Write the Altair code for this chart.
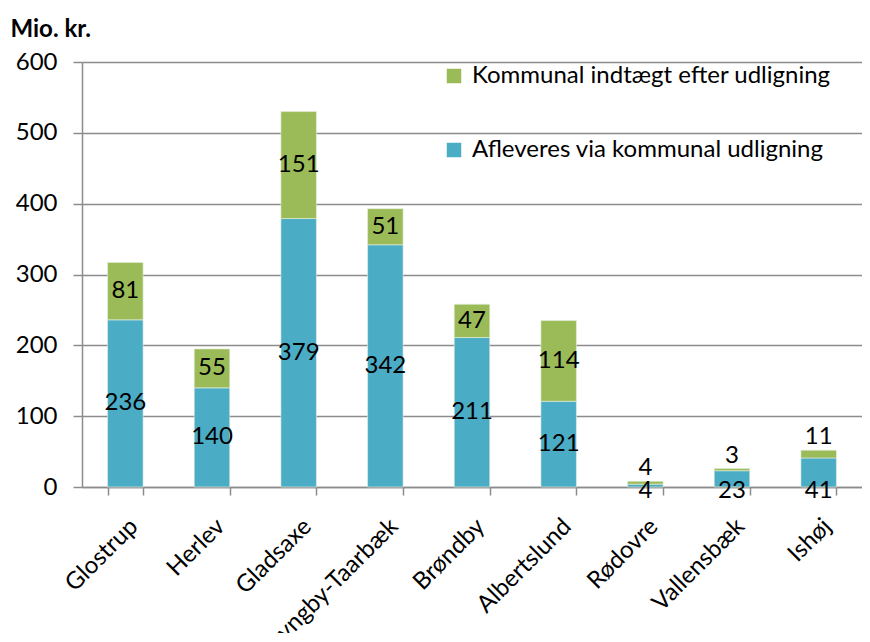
import altair as alt
import pandas as pd

kommuner = ["Glostrup", "Herlev", "Gladsaxe", "Lyngby-Taarbæk", "Brøndby",
            "Albertslund", "Rødovre", "Vallensbæk", "Ishøj"]
afleveres = [236, 140, 379, 342, 211, 121, 4, 23, 41]
indtaegt = [81, 55, 151, 51, 47, 114, 4, 3, 11]
serie_navne = ["Kommunal indtægt efter udligning", "Afleveres via kommunal udligning"]
serie_farver = ["#9BBB59", "#4BACC6"]
y_ticks = [0, 100, 200, 300, 400, 500, 600]

rows = []
for k, a, i in zip(kommuner, afleveres, indtaegt):
    rows.append(dict(Kommune=k, Serie=serie_navne[1], Vaerdi=a, orden=0, total=a + i))
    rows.append(dict(Kommune=k, Serie=serie_navne[0], Vaerdi=i, orden=1, total=a + i))
df = pd.DataFrame(rows)

FONT = "Lato"
GRAY = "#8C8C8C"
FS = 24

base = alt.Chart(df).transform_stack(
    stack="Vaerdi", groupby=["Kommune"], as_=["y0", "y1"],
    sort=[alt.SortField("orden", order="ascending")]
).transform_calculate(mid="(datum.y0 + datum.y1) / 2")

x_enc = alt.X("Kommune:N", sort=kommuner, title=None,
              scale=alt.Scale(paddingInner=0.59, paddingOuter=0.295),
              axis=alt.Axis(labelAngle=-45, labelFontSize=FS, labelColor="black",
                            tickBand="extent", tickSize=8, tickColor=GRAY, tickWidth=1.5,
                            domainColor=GRAY, domainWidth=1.5, labelPadding=19, grid=False))
y_scale = alt.Scale(domain=[0, 600], nice=False)

bars = base.mark_bar(stroke="#E8F0E0", strokeWidth=0.6).encode(
    x=x_enc,
    y=alt.Y("y0:Q", scale=y_scale,
            axis=alt.Axis(values=y_ticks, grid=True, gridColor=GRAY, gridWidth=1.5,
                          domainColor=GRAY, domainWidth=1.5, tickColor=GRAY, tickWidth=1.5,
                          tickSize=9, labelPadding=16, labelFontSize=FS, labelColor="black",
                          title="Mio. kr.", titleAngle=0, titleX=-72, titleY=-26,
                          titleFontSize=FS, titleFontWeight="bold", titleAlign="left",
                          titleBaseline="alphabetic", titleColor="black")),
    y2="y1:Q",
    color=alt.Color("Serie:N", scale=alt.Scale(domain=serie_navne, range=serie_farver),
                    legend=alt.Legend(title=None, orient="none", legendX=360, legendY=2,
                                      symbolType="square", symbolSize=210,
                                      symbolStrokeWidth=0, labelFontSize=FS,
                                      labelColor="black", rowPadding=50,
                                      labelLimit=500, symbolOffset=0, labelOffset=6)),
    order=alt.Order("orden:Q"),
)

txt_normal = base.transform_filter("datum.total >= 60").mark_text(
    fontSize=FS, color="black", baseline="middle").encode(
    x=alt.X("Kommune:N", sort=kommuner), y=alt.Y("mid:Q", scale=y_scale),
    text=alt.Text("Vaerdi:Q"))

txt_small_top = base.transform_filter("datum.total < 60 && datum.orden == 1").mark_text(
    fontSize=FS, color="black", baseline="bottom", dy=-1).encode(
    x=alt.X("Kommune:N", sort=kommuner), y=alt.Y("y1:Q", scale=y_scale),
    text=alt.Text("Vaerdi:Q"))

txt_small_bot = base.transform_filter("datum.total < 60 && datum.orden == 0").mark_text(
    fontSize=FS, color="black", baseline="middle", dy=4).encode(
    x=alt.X("Kommune:N", sort=kommuner), y=alt.Y("y0:Q", scale=y_scale),
    text=alt.Text("Vaerdi:Q"))

chart = alt.layer(bars, txt_normal, txt_small_top, txt_small_bot).properties(
    width=780, height=425,
    padding={"left": 74, "top": 54, "right": 0, "bottom": 146},
    autosize=alt.AutoSizeParams(type="none"),
).configure(font=FONT).configure_view(stroke=None)

chart.save("out.html", embed_options={"renderer": "svg", "actions": False})
